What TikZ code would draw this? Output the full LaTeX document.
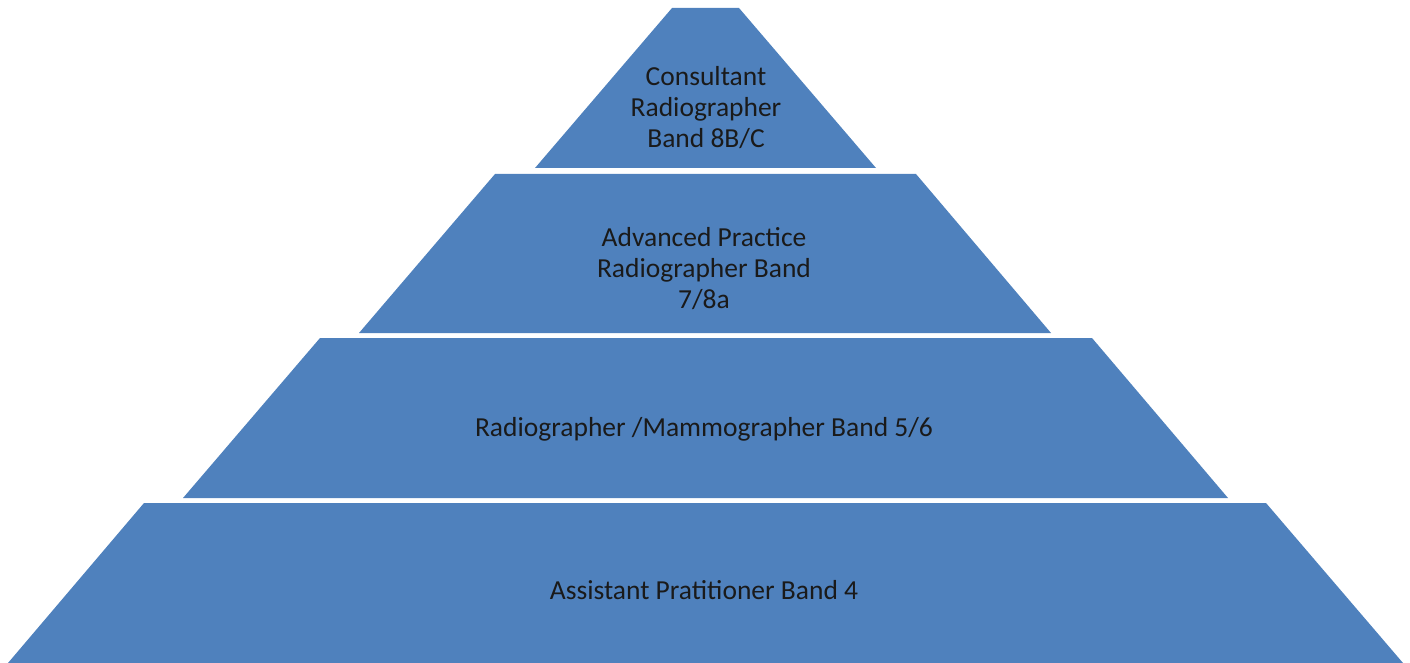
\documentclass[tikz,border=0pt]{standalone}
\usepackage{fontspec}
\setmainfont{Carlito}
\definecolor{tierblue}{HTML}{4F81BD}
\definecolor{tiertext}{HTML}{1A1A1A}
\begin{document}
\begin{tikzpicture}[x=1pt,y=-1pt,
  tier/.style={fill=tierblue,draw=none},
  lbl/.style={text=tiertext,align=center,font=\fontsize{27.5}{31}\selectfont,inner sep=0pt}]
\useasboundingbox (0,0) rectangle (1410,663);
\fill[tier] (672,8) -- (739,8) -- (876,168) -- (535,168) -- cycle;
\fill[tier] (495,174) -- (916,174) -- (1051,333) -- (359,333) -- cycle;
\fill[tier] (320,338) -- (1092,338) -- (1228,498) -- (183,498) -- cycle;
\fill[tier] (144,503) -- (1266,503) -- (1403,663) -- (8,663) -- cycle;
\node[lbl] (t1) at (706,108) {Consultant\\Radiographer\\Band 8B/C};
\node[lbl] (t2) at (704,269) {Advanced Practice\\Radiographer Band\\7/8a};
\node[lbl] (t3) at (704,429) {Radiographer /Mammographer Band 5/6};
\node[lbl] (t4) at (704,590) {Assistant Pratitioner Band 4};
\end{tikzpicture}
\end{document}
